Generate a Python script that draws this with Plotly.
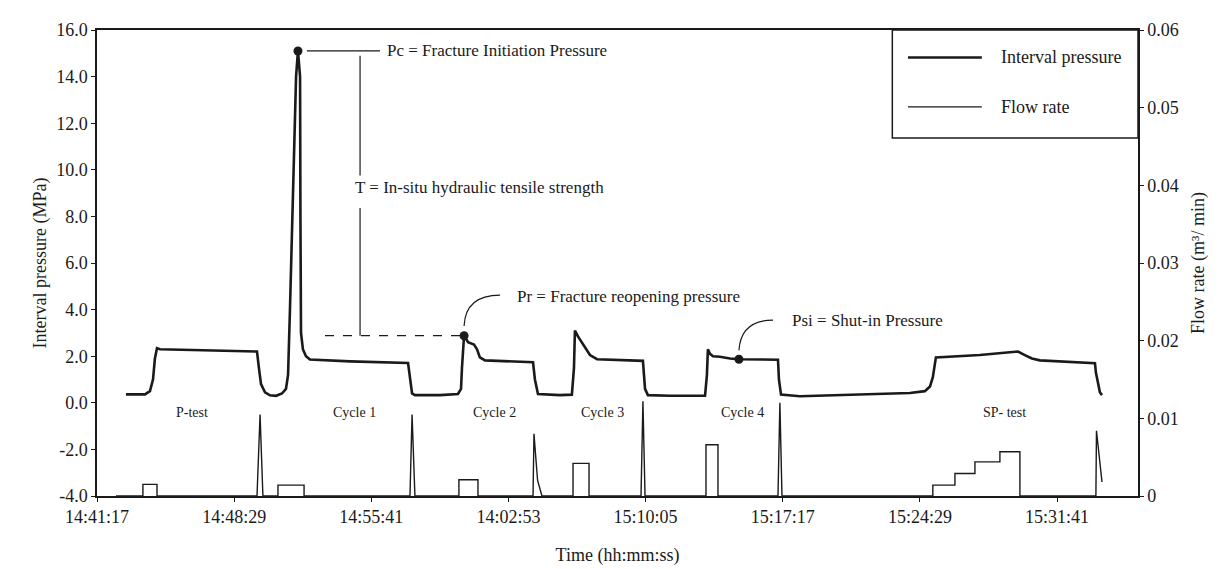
import plotly.graph_objects as go

# ---- data (time in minutes after 14:41:17) ----
p_time = [1.52, 2.52, 2.78, 2.94, 3.04, 3.15, 3.31, 5.41, 8.40, 8.50, 8.61, 8.82, 9.08, 9.40,
          9.71, 9.92, 10.03, 10.13, 10.29, 10.45, 10.55, 10.66, 10.68, 10.71, 10.81, 10.97,
          11.18, 13.28, 16.33, 16.43, 16.54, 16.69, 18.01, 18.95, 19.11, 19.16, 19.27, 19.48,
          19.79, 19.95, 20.10, 20.37, 21.68, 22.89, 22.99, 23.15, 24.30, 24.93, 25.04, 25.09,
          25.25, 25.46, 25.67, 25.88, 26.25, 27.45, 28.66, 28.77, 28.92, 30.08, 31.92, 32.02,
          32.07, 32.18, 32.34, 32.70, 33.23, 33.70, 34.80, 35.75, 35.80, 35.91, 36.90, 40.58,
          42.68, 43.46, 43.73, 43.88, 43.99, 44.04, 46.35, 48.35, 48.71, 49.08, 49.50, 51.08,
          52.39, 52.44, 52.55, 52.65, 52.76]
p_value = [0.36, 0.36, 0.5, 1.0, 1.9, 2.34, 2.3, 2.25, 2.2, 1.5, 0.8, 0.45, 0.32, 0.3,
           0.4, 0.6, 1.2, 4.0, 9.0, 14.0, 15.1, 14.0, 8.0, 3.0, 2.3, 2.0,
           1.86, 1.78, 1.71, 1.0, 0.4, 0.33, 0.33, 0.38, 0.6, 1.5, 2.88, 2.6,
           2.5, 2.3, 1.95, 1.82, 1.78, 1.74, 1.0, 0.38, 0.33, 0.35, 1.5, 3.1,
           2.85, 2.6, 2.3, 2.05, 1.87, 1.82, 1.8, 0.6, 0.33, 0.3, 0.3, 1.2,
           2.3, 2.1, 2.0, 1.98, 1.9, 1.87, 1.87, 1.85, 1.0, 0.35, 0.28, 0.35,
           0.42, 0.5, 0.7, 1.1, 1.6, 1.95, 2.05, 2.2, 2.05, 1.9, 1.82, 1.76,
           1.7, 1.3, 0.8, 0.45, 0.33]

q_time = [1.0, 2.41, 2.41, 3.15, 3.15, 8.40, 8.56, 8.71, 9.50, 9.50, 10.87, 10.87,
          16.43, 16.54, 16.69, 19.00, 19.00, 20.00, 20.00, 22.89, 22.94, 23.13, 23.36,
          24.99, 24.99, 25.83, 25.83, 28.56, 28.66, 28.77, 31.97, 31.97, 32.60, 32.60,
          35.75, 35.85, 35.96, 43.88, 43.88, 45.04, 45.04, 46.09, 46.09, 47.40, 47.40,
          48.45, 48.45, 52.44, 52.47, 52.76]
q_value = [0, 0, 0.0015, 0.0015, 0, 0, 0.0105, 0, 0, 0.0014, 0.0014, 0,
           0, 0.0105, 0, 0, 0.0021, 0.0021, 0, 0, 0.008, 0.002, 0,
           0, 0.0042, 0.0042, 0, 0, 0.0122, 0, 0, 0.0066, 0.0066, 0,
           0, 0.012, 0, 0, 0.0014, 0.0014, 0.0029, 0.0029, 0.0044, 0.0044, 0.0057,
           0.0057, 0, 0, 0.0084, 0.0018]

x_tick_vals = [0, 7.2, 14.4, 21.6, 28.8, 36.0, 43.2, 50.4]
x_tick_text = ["14:41:17", "14:48:29", "14:55:41", "14:02:53", "15:10:05", "15:17:17",
               "15:24:29", "15:31:41"]
y_tick_vals = [-4, -2, 0, 2, 4, 6, 8, 10, 12, 14, 16]
y_tick_text = ["-4.0", "-2.0", "0.0", "2.0", "4.0", "6.0", "8.0", "10.0", "12.0", "14.0", "16.0"]
y2_tick_vals = [0, 0.01, 0.02, 0.03, 0.04, 0.05, 0.06]
y2_tick_text = ["0", "0.01", "0.02", "0.03", "0.04", "0.05", "0.06"]

phase_names = ["P-test", "Cycle 1", "Cycle 2", "Cycle 3", "Cycle 4", "SP- test"]
phase_time = [4.99, 13.54, 20.89, 26.56, 33.91, 47.66]
phase_level = -0.41

pc_point = (10.55, 15.1)
pr_point = (19.27, 2.88)
psi_point = (33.70, 1.87)

FONT = "Liberation Serif, Times New Roman, DejaVu Serif, serif"
INK = "#1a1a1a"


def f(size):
    return dict(size=size, family=FONT, color=INK)


fig = go.Figure()
fig.add_trace(go.Scatter(x=p_time, y=p_value, mode="lines", name="Interval pressure",
                         line=dict(color=INK, width=2.6), yaxis="y", showlegend=False))
fig.add_trace(go.Scatter(x=q_time, y=q_value, mode="lines", name="Flow rate",
                         line=dict(color=INK, width=1.4), yaxis="y2", showlegend=False))
fig.add_trace(go.Scatter(x=[pc_point[0], pr_point[0], psi_point[0]],
                         y=[pc_point[1], pr_point[1], psi_point[1]], mode="markers",
                         marker=dict(color=INK, size=9), showlegend=False, yaxis="y"))

shapes = []
shapes.append(dict(type="line", xref="x", yref="y", x0=11.02, x1=14.86, y0=15.1, y1=15.1,
                   line=dict(color=INK, width=1.2)))
shapes.append(dict(type="line", xref="x", yref="y", x0=13.81, x1=13.81, y0=14.9, y1=9.76,
                   line=dict(color=INK, width=1.2)))
shapes.append(dict(type="line", xref="x", yref="y", x0=13.81, x1=13.81, y0=8.36, y1=2.88,
                   line=dict(color=INK, width=1.2)))
shapes.append(dict(type="line", xref="x", yref="y", x0=11.97, x1=19.27, y0=2.88, y1=2.88,
                   line=dict(color=INK, width=1.2, dash="dash")))
shapes.append(dict(type="path", xref="x", yref="y",
                   path="M 19.27,3.3 Q 19.35,4.62 21.16,4.62",
                   line=dict(color=INK, width=1.2)))
shapes.append(dict(type="path", xref="x", yref="y",
                   path="M 33.70,2.25 Q 33.80,3.55 35.49,3.55",
                   line=dict(color=INK, width=1.2)))
shapes.append(dict(type="rect", xref="paper", yref="paper", x0=0.764, x1=1.0, y0=0.768, y1=1.0,
                   line=dict(color=INK, width=1.5), fillcolor="white", layer="above"))
shapes.append(dict(type="line", xref="paper", yref="paper", x0=0.779, x1=0.850, y0=0.941, y1=0.941,
                   line=dict(color=INK, width=2.6)))
shapes.append(dict(type="line", xref="paper", yref="paper", x0=0.779, x1=0.850, y0=0.835, y1=0.835,
                   line=dict(color=INK, width=1.2)))

ann = []
ann.append(dict(x=15.12, y=15.1, xref="x", yref="y", text="Pc = Fracture Initiation Pressure",
                showarrow=False, xanchor="left", yanchor="middle", font=f(17)))
ann.append(dict(x=13.44, y=9.25, xref="x", yref="y", text="T = In-situ hydraulic tensile strength",
                showarrow=False, xanchor="left", yanchor="middle", font=f(17)))
ann.append(dict(x=21.94, y=4.57, xref="x", yref="y", text="Pr = Fracture reopening pressure",
                showarrow=False, xanchor="left", yanchor="middle", font=f(17)))
ann.append(dict(x=36.38, y=3.55, xref="x", yref="y", text="Psi = Shut-in Pressure",
                showarrow=False, xanchor="left", yanchor="middle", font=f(17)))
for name, t in zip(phase_names, phase_time):
    ann.append(dict(x=t, y=phase_level, xref="x", yref="y", text=name, showarrow=False,
                    xanchor="center", yanchor="middle", font=f(14)))
ann.append(dict(x=0.866, y=0.941, xref="paper", yref="paper", text="Interval pressure",
                showarrow=False, xanchor="left", yanchor="middle", font=f(18)))
ann.append(dict(x=0.866, y=0.835, xref="paper", yref="paper", text="Flow rate",
                showarrow=False, xanchor="left", yanchor="middle", font=f(18)))

axis_common = dict(showgrid=False, zeroline=False, showline=True, linecolor=INK, linewidth=1.5,
                   ticks="outside", ticklen=4, tickcolor=INK, tickfont=f(18))

fig.update_layout(
    width=1228, height=569,
    margin=dict(l=89, r=98, t=14, b=81),
    paper_bgcolor="white", plot_bgcolor="white",
    font=f(17),
    xaxis=dict(range=[0, 54.65], tickvals=x_tick_vals, ticktext=x_tick_text, mirror=True,
               title=dict(text="Time (hh:mm:ss)", font=f(18), standoff=22),
               **axis_common),
    yaxis=dict(range=[-4, 16], tickvals=y_tick_vals, ticktext=y_tick_text,
               title=dict(text="Interval pressure (MPa)", font=f(18), standoff=5),
               **axis_common),
    yaxis2=dict(range=[0, 0.06], tickvals=y2_tick_vals, ticktext=y2_tick_text, overlaying="y",
                side="right",
                title=dict(text="Flow rate (m³/ min)", font=f(18), standoff=14),
                **axis_common),
    shapes=shapes, annotations=ann,
)

fig.write_html("out.html")
